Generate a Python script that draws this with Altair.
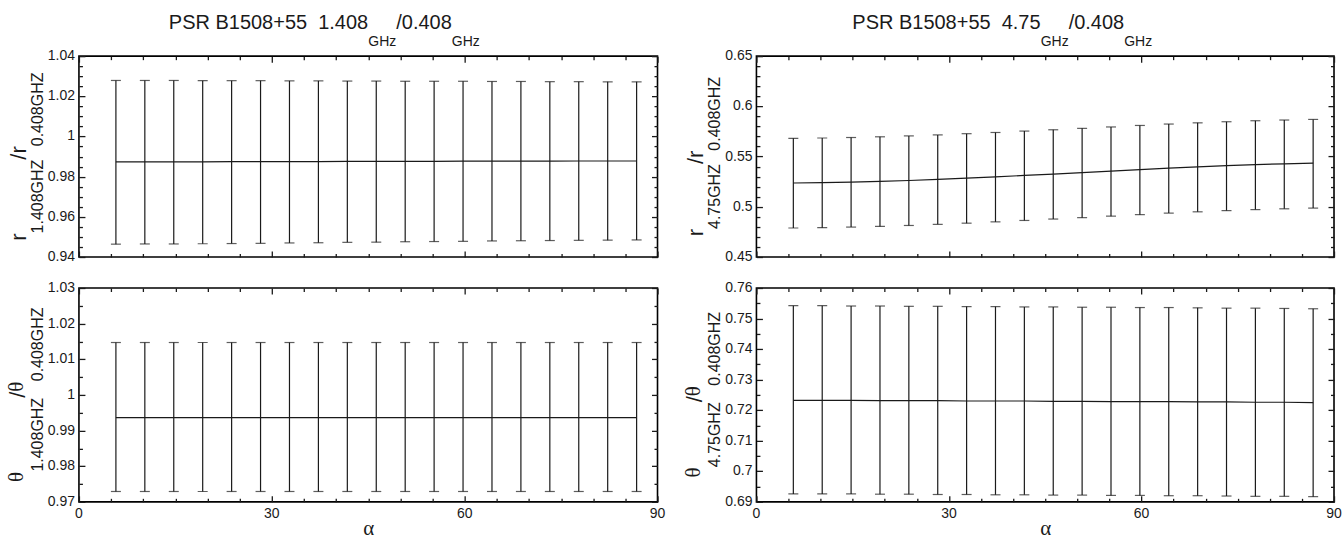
import altair as alt
import pandas as pd

# ---------------- data ----------------
alpha = [5.75, 10.25, 14.75, 19.25, 23.75, 28.25, 32.75, 37.25, 41.75, 46.25,
         50.75, 55.25, 59.75, 64.25, 68.75, 73.25, 77.75, 82.25, 86.75]

# r(1.408)/r(0.408)
r1_c = [0.9874, 0.9874, 0.9874, 0.9874, 0.9875, 0.9875, 0.9875, 0.9875, 0.9876, 0.9876,
        0.9876, 0.9876, 0.9877, 0.9877, 0.9877, 0.9877, 0.9878, 0.9878, 0.9878]
r1_hi = [1.0279, 1.0279, 1.0279, 1.0278, 1.0278, 1.0278, 1.0277, 1.0277, 1.0276, 1.0276,
         1.0275, 1.0275, 1.0275, 1.0274, 1.0274, 1.0273, 1.0273, 1.0272, 1.0272]
r1_lo = [0.9464, 0.9465, 0.9465, 0.9466, 0.9467, 0.9468, 0.9470, 0.9471, 0.9473, 0.9474,
         0.9476, 0.9477, 0.9478, 0.9480, 0.9481, 0.9482, 0.9483, 0.9484, 0.9485]

# theta(1.408)/theta(0.408)
t1_c = [0.9936, 0.9936, 0.9936, 0.9936, 0.9936, 0.9936, 0.9936, 0.9936, 0.9936, 0.9936,
        0.9936, 0.9936, 0.9936, 0.9936, 0.9936, 0.9936, 0.9936, 0.9936, 0.9936]
t1_hi = [1.0147, 1.0147, 1.0147, 1.0147, 1.0147, 1.0147, 1.0147, 1.0147, 1.0147, 1.0147,
         1.0147, 1.0147, 1.0147, 1.0147, 1.0147, 1.0147, 1.0147, 1.0147, 1.0147]
t1_lo = [0.9729, 0.9729, 0.9729, 0.9729, 0.9729, 0.9729, 0.9729, 0.9729, 0.9729, 0.9729,
         0.9729, 0.9729, 0.9729, 0.9729, 0.9729, 0.9729, 0.9729, 0.9729, 0.9729]

# r(4.75)/r(0.408)
r2_c = [0.5237, 0.5240, 0.5246, 0.5253, 0.5262, 0.5273, 0.5285, 0.5298, 0.5312, 0.5326,
        0.5340, 0.5355, 0.5370, 0.5385, 0.5398, 0.5410, 0.5420, 0.5428, 0.5435]
r2_hi = [0.5682, 0.5685, 0.5690, 0.5697, 0.5706, 0.5716, 0.5728, 0.5740, 0.5754, 0.5767,
         0.5781, 0.5795, 0.5810, 0.5824, 0.5836, 0.5847, 0.5857, 0.5864, 0.5870]
r2_lo = [0.4789, 0.4792, 0.4798, 0.4805, 0.4814, 0.4825, 0.4837, 0.4850, 0.4864, 0.4878,
         0.4892, 0.4907, 0.4922, 0.4937, 0.4950, 0.4962, 0.4972, 0.4980, 0.4987]

# theta(4.75)/theta(0.408)
t2_c = [0.7232, 0.7232, 0.7232, 0.7231, 0.7231, 0.7231, 0.7230, 0.7230, 0.7230, 0.7229,
        0.7229, 0.7228, 0.7228, 0.7228, 0.7227, 0.7227, 0.7226, 0.7226, 0.7225]
t2_hi = [0.7542, 0.7542, 0.7541, 0.7541, 0.7540, 0.7540, 0.7539, 0.7539, 0.7538, 0.7538,
         0.7537, 0.7537, 0.7536, 0.7536, 0.7535, 0.7534, 0.7534, 0.7533, 0.7532]
t2_lo = [0.6926, 0.6926, 0.6926, 0.6925, 0.6925, 0.6924, 0.6924, 0.6923, 0.6923, 0.6922,
         0.6922, 0.6921, 0.6921, 0.6920, 0.6920, 0.6919, 0.6918, 0.6918, 0.6917]

# ticks and tick labels
x_major = [0, 30, 60, 90]
x_labels = ["0", "30", "60", "90"]
x_minor = [5, 10, 15, 20, 25, 35, 40, 45, 50, 55, 65, 70, 75, 80, 85]

r1_dom = [0.94, 1.04]
r1_major = [0.94, 0.96, 0.98, 1.0, 1.02, 1.04]
r1_labels = ["0.94", "0.96", "0.98", "1", "1.02", "1.04"]
r1_minor = [0.945, 0.95, 0.955, 0.965, 0.97, 0.975, 0.985, 0.99, 0.995,
            1.005, 1.01, 1.015, 1.025, 1.03, 1.035]

t1_dom = [0.97, 1.03]
t1_major = [0.97, 0.98, 0.99, 1.0, 1.01, 1.02, 1.03]
t1_labels = ["0.97", "0.98", "0.99", "1", "1.01", "1.02", "1.03"]
t1_minor = [0.975, 0.985, 0.995, 1.005, 1.015, 1.025]

r2_dom = [0.45, 0.65]
r2_major = [0.45, 0.5, 0.55, 0.6, 0.65]
r2_labels = ["0.45", "0.5", "0.55", "0.6", "0.65"]
r2_minor = [0.46, 0.47, 0.48, 0.49, 0.51, 0.52, 0.53, 0.54, 0.56, 0.57, 0.58, 0.59,
            0.61, 0.62, 0.63, 0.64]

t2_dom = [0.69, 0.76]
t2_major = [0.69, 0.7, 0.71, 0.72, 0.73, 0.74, 0.75, 0.76]
t2_labels = ["0.69", "0.7", "0.71", "0.72", "0.73", "0.74", "0.75", "0.76"]
t2_minor = [0.695, 0.705, 0.715, 0.725, 0.735, 0.745, 0.755]

# text pieces
title_left = ["PSR B1508+55\u00a0\u00a01.408", "GHz", "/0.408", "GHz"]
title_right = ["PSR B1508+55\u00a0\u00a04.75", "GHz", "/0.408", "GHz"]
ylab_r1 = ["r", "1.408GHZ", "/r", "0.408GHZ"]
ylab_t1 = ["\u03b8", "1.408GHZ", "/\u03b8", "0.408GHZ"]
ylab_r2 = ["r", "4.75GHZ", "/r", "0.408GHZ"]
ylab_t2 = ["\u03b8", "4.75GHZ", "/\u03b8", "0.408GHZ"]
xlab = ["\u03b1"]

# ---------------- styling ----------------
INK = "#1a1a1a"
SANS = "Liberation Sans"
SERIF = "Liberation Serif"
WL, WR = 579, 578
HT, HB = 201, 214
XDOM = [0, 90]

CW = {" ": 278, "\u00a0": 278, "P": 667, "S": 667, "R": 722, "B": 667, "+": 584,
      ".": 278, "G": 778, "H": 722, "z": 500, "Z": 611, "/": 278, "r": 333,
      "\u03b8": 500}


def tw(s, size):
    return sum(CW.get(ch, 556) for ch in s) / 1000.0 * size


def txt(s, x, y, size, font=SANS, angle=0):
    kw = dict(align="left", baseline="alphabetic", font=font, fontSize=size,
              color=INK)
    if angle:
        kw["angle"] = angle
    return alt.Chart(pd.DataFrame({"s": [s]})).mark_text(**kw).encode(
        text="s:N", x=alt.value(x), y=alt.value(y))


def htitle(pieces, x0):
    F, S = 20, 14
    layers = []
    x = x0
    for i, p in enumerate(pieces):
        if i % 2 == 0:
            layers.append(txt(p, x, -27, F))
            x += tw(p, F)
        else:
            layers.append(txt(p, x, -10, S))
            x += tw(p, S)
    return layers


def ytitle(pieces, H, theta=False):
    F, S = 22, 16
    Fm = 21 if theta else F
    sizes = [Fm, S, Fm, S]
    total = sum(tw(p, sz) for p, sz in zip(pieces, sizes))
    y = H / 2 + total / 2
    layers = []
    for i, p in enumerate(pieces):
        sz = sizes[i]
        if i % 2 == 0:
            if theta:
                if p.startswith("/"):
                    layers.append(txt("/", -54, y, F, SANS, 270))
                    y -= tw("/", F)
                    layers.append(txt(p[1:], -56, y, sz, SERIF, 270))
                    y -= tw(p[1:], sz)
                else:
                    layers.append(txt(p, -56, y, sz, SERIF, 270))
                    y -= tw(p, sz)
            else:
                layers.append(txt(p, -53, y, sz, SANS, 270))
                y -= tw(p, sz)
        else:
            layers.append(txt(p, -36, y, sz, SANS, 270))
            y -= tw(p, sz)
    return layers


def tick_axis(orient, vals, size):
    # ticks only, pulled inside the frame by a negative offset
    return alt.Axis(orient=orient, values=vals, tickSize=size, offset=-size,
                    ticks=True, labels=False, domain=False, grid=False,
                    tickColor=INK, tickWidth=1.3, title=None)


def panel(c, hi, lo, ydom, ymaj, ylabs, ymin, W, H, bottom, extra):
    df = pd.DataFrame({"alpha": alpha, "c": c, "hi": hi, "lo": lo})
    xs = alt.Scale(domain=XDOM, nice=False, zero=False)
    ys = alt.Scale(domain=ydom, nice=False, zero=False)

    def X(field):
        return alt.X(field, scale=xs, axis=None)

    def Y(field):
        return alt.Y(field, scale=ys, axis=None)

    base = alt.Chart(df)
    bars = base.mark_rule(color=INK, strokeWidth=1.2).encode(
        x=X("alpha:Q"), y=Y("lo:Q"), y2="hi:Q")
    cap_hi = base.mark_tick(orient="horizontal", size=10, thickness=1.2, color=INK).encode(
        x=X("alpha:Q"), y=Y("hi:Q"))
    cap_lo = base.mark_tick(orient="horizontal", size=10, thickness=1.2, color=INK).encode(
        x=X("alpha:Q"), y=Y("lo:Q"))
    line = base.mark_line(color=INK, strokeWidth=1.2).encode(
        x=X("alpha:Q"), y=Y("c:Q"))

    def axis_layer(xo, xv, yo, yv, size):
        return base.mark_point(opacity=0, size=1).encode(
            x=alt.X("alpha:Q", scale=xs, axis=tick_axis(xo, xv, size)),
            y=alt.Y("c:Q", scale=ys, axis=tick_axis(yo, yv, size)))

    ticks = [axis_layer("bottom", x_major, "left", ymaj, 6),
             axis_layer("bottom", x_minor, "left", ymin, 3.5),
             axis_layer("top", x_major, "right", ymaj, 6),
             axis_layer("top", x_minor, "right", ymin, 3.5)]

    ylab_layer = alt.Chart(pd.DataFrame({"v": ymaj, "lab": ylabs})).mark_text(
        align="right", baseline="middle", font=SANS, fontSize=14, color=INK).encode(
        y=Y("v:Q"), x=alt.value(-4), text="lab:N")

    layers = [bars, cap_hi, cap_lo, line] + ticks + [ylab_layer]
    if bottom:
        xlab_layer = alt.Chart(pd.DataFrame({"v": x_major, "lab": x_labels})).mark_text(
            align="center", baseline="top", font=SANS, fontSize=14, color=INK).encode(
            x=X("v:Q"), y=alt.value(H + 5), text="lab:N")
        layers.append(xlab_layer)
    layers += extra
    return alt.layer(*layers).resolve_scale(x="shared", y="shared").resolve_axis(
        x="independent", y="independent").properties(width=W, height=H)


anchor = alt.Chart(pd.DataFrame({"s": [0]})).mark_rule(
    strokeOpacity=0, strokeWidth=0.2).encode(
    x=alt.value(-78), x2=alt.value(-77), y=alt.value(-55), y2=alt.value(-54))

lt = panel(r1_c, r1_hi, r1_lo, r1_dom, r1_major, r1_labels, r1_minor, WL, HT, False,
           htitle(title_left, 90) + ytitle(ylab_r1, HT) + [anchor])
lb = panel(t1_c, t1_hi, t1_lo, t1_dom, t1_major, t1_labels, t1_minor, WL, HB, True,
           ytitle(ylab_t1, HB, theta=True) +
           [txt(xlab[0], WL / 2 - 5, HB + 33, 21, SERIF)])
rt = panel(r2_c, r2_hi, r2_lo, r2_dom, r2_major, r2_labels, r2_minor, WR, HT, False,
           htitle(title_right, 96) + ytitle(ylab_r2, HT))
rb = panel(t2_c, t2_hi, t2_lo, t2_dom, t2_major, t2_labels, t2_minor, WR, HB, True,
           ytitle(ylab_t2, HB, theta=True) +
           [txt(xlab[0], WR / 2 - 5, HB + 33, 21, SERIF)])

chart = alt.concat(lt, rt, lb, rb, columns=2,
                   spacing={"row": 31, "column": 99}, bounds="flush").properties(
    padding=0, background="white"
).configure_view(stroke="black", strokeWidth=1.6)

chart.save("out.html", embed_options={"renderer": "svg", "actions": False})
